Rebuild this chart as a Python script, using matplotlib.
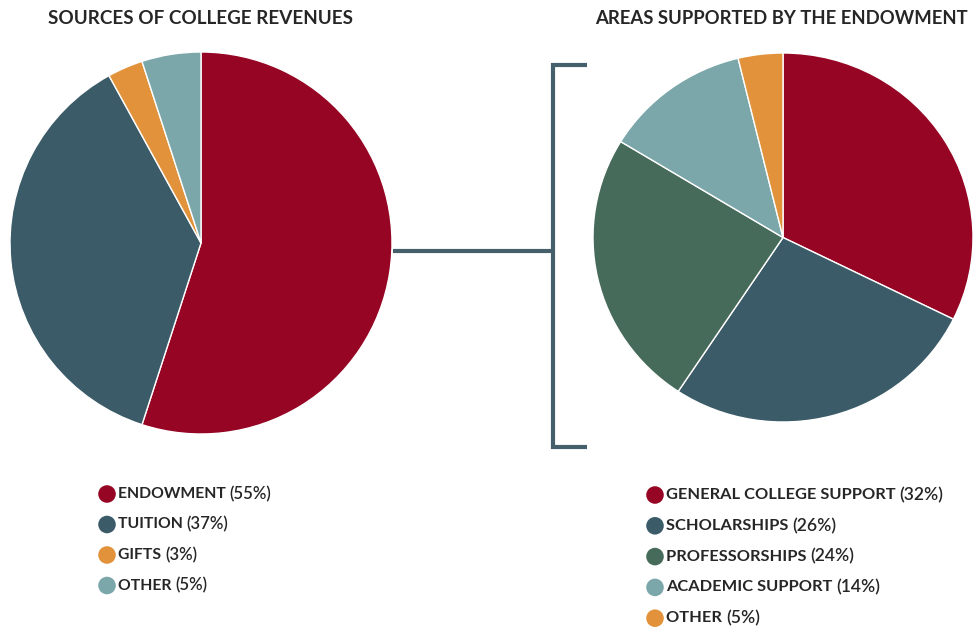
import matplotlib
matplotlib.use("Agg")
import matplotlib.pyplot as plt

# ---- data ----
rev_labels = ["ENDOWMENT", "TUITION", "GIFTS", "OTHER"]
rev_values = [55, 37, 3, 5]          # slice sizes and legend percentages
rev_colors = ["#960624", "#3b5b68", "#e2923b", "#7ba7aa"]

end_labels = ["GENERAL COLLEGE SUPPORT", "SCHOLARSHIPS", "PROFESSORSHIPS",
              "ACADEMIC SUPPORT", "OTHER"]
end_pct = [32, 26, 24, 14, 5]                 # legend percentages
end_shares = [32.3, 27.0, 24.4, 12.5, 3.8]    # slice sizes as drawn
end_colors = ["#960624", "#3b5b68", "#476b5a", "#7ba7aa", "#e2923b"]

title_left = "SOURCES OF COLLEGE REVENUES"
title_right = "AREAS SUPPORTED BY THE ENDOWMENT"

W, H = 974, 627
plt.rcParams['font.family'] = ['Lato', 'DejaVu Sans']
fig = plt.figure(figsize=(W / 100, H / 100), dpi=100)

def px_axes(x0, y0, x1, y1):
    return fig.add_axes([x0 / W, 1 - y1 / H, (x1 - x0) / W, (y1 - y0) / H])

# overlay in pixel coordinates
ov = fig.add_axes([0, 0, 1, 1])
ov.set_xlim(0, W)
ov.set_ylim(H, 0)
ov.axis("off")

# left pie
axl = px_axes(10, 52, 392, 434)
axl.pie(rev_values, colors=rev_colors, startangle=90, counterclock=False,
        wedgeprops=dict(edgecolor="white", linewidth=1))
axl.set_xlim(-1, 1); axl.set_ylim(-1, 1)
axl.set_aspect("auto")

# right pie
axr = px_axes(593, 53, 973, 422)
axr.pie(end_shares, colors=end_colors, startangle=90, counterclock=False,
        wedgeprops=dict(edgecolor="white", linewidth=1))
axr.set_xlim(-1, 1); axr.set_ylim(-1, 1)
axr.set_aspect("auto")

# connector and bracket
lc = "#46606b"
ov.plot([393, 552], [251, 251], color=lc, lw=3, solid_capstyle="butt")
ov.plot([587, 552.5, 552.5, 587], [65, 65, 447, 447], color=lc, lw=3,
        solid_capstyle="butt", solid_joinstyle="miter")

# titles
tc = "#262626"
ov.text(201, 18, title_left, ha="center", va="center", fontsize=13.6,
        fontweight="bold", color=tc)
ov.text(781, 18, title_right, ha="center", va="center", fontsize=13.3,
        fontweight="bold", color=tc)

# legends
def legend(x_mark, x_text, y0, dy, labels, values, colors, fs):
    for i, (lab, v, c) in enumerate(zip(labels, values, colors)):
        y = y0 + i * dy
        ov.scatter([x_mark], [y], s=160, color=c, edgecolors="none", zorder=3)
        t = ov.text(x_text, y, lab + " ", ha="left", va="center", fontsize=fs,
                    fontweight="bold", color=tc)
        ov.annotate(f"({v}%)", xy=(1, 0.5), xycoords=t, ha="left",
                    va="center", fontsize=fs + 0.8, fontweight="semibold",
                    color=tc)

legend(107, 118, 494, 30.5, rev_labels, rev_values, rev_colors, 11.3)
legend(655, 666, 495, 30.8, end_labels, end_pct, end_colors, 11.8)

fig.savefig("out.png", dpi=100)
